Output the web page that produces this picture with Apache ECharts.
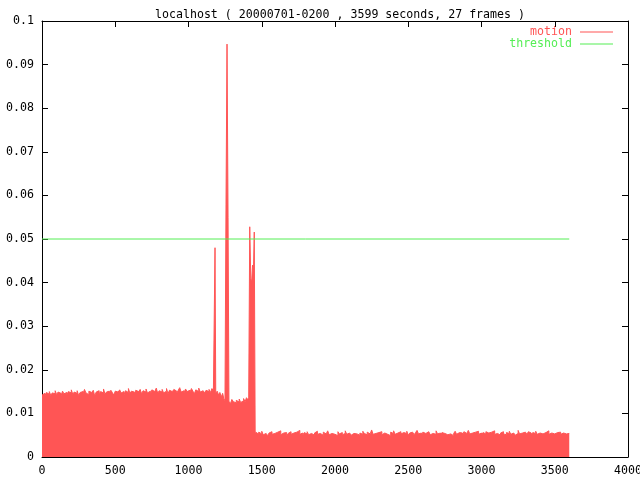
<!DOCTYPE html>
<html>
<head>
<meta charset="utf-8">
<script src="https://cdn.jsdelivr.net/npm/echarts@6/dist/echarts.min.js"></script>
<style>html,body{margin:0;padding:0;background:#fff}#c{width:640px;height:480px}</style>
</head>
<body>
<div id="c"></div>
<script>
// ---- data (seconds, motion value) ----
const titleText = 'localhost ( 20000701-0200 , 3599 seconds, 27 frames )';
const sampleStep = 10; // seconds between level samples
const earlyStart = 0;
const earlyLevel = [
0.0142,0.0146,0.0140,0.0148,0.0144,0.0150,0.0141,0.0147,0.0145,0.0152,
0.0143,0.0149,0.0146,0.0140,0.0151,0.0145,0.0148,0.0142,0.0150,0.0147,
0.0154,0.0144,0.0149,0.0146,0.0152,0.0141,0.0148,0.0150,0.0145,0.0155,
0.0147,0.0143,0.0151,0.0148,0.0146,0.0153,0.0140,0.0149,0.0152,0.0145,
0.0150,0.0147,0.0156,0.0144,0.0149,0.0151,0.0146,0.0153,0.0148,0.0142,
0.0151,0.0149,0.0145,0.0154,0.0147,0.0150,0.0143,0.0152,0.0148,0.0157,
0.0146,0.0151,0.0149,0.0144,0.0153,0.0150,0.0147,0.0155,0.0145,0.0152,
0.0149,0.0156,0.0147,0.0151,0.0143,0.0154,0.0150,0.0148,0.0158,0.0146,
0.0152,0.0149,0.0155,0.0147,0.0151,0.0157,0.0145,0.0153,0.0150,0.0148,
0.0155,0.0151,0.0146,0.0153,0.0159,0.0149,0.0152,0.0147,0.0156,0.0150,
0.0153,0.0148,0.0157,0.0151,0.0145,0.0154,0.0150,0.0158,0.0149,0.0152,
0.0156,0.0147,0.0153,0.0150,0.0155,0.0148,0.0157,0.0151];
const midTimes  = [1178, 1181, 1186, 1196, 1205, 1214, 1224, 1233, 1241, 1249, 1256, 1263, 1270, 1276, 1286, 1296, 1306, 1316, 1326, 1336, 1346, 1356, 1366, 1376, 1386, 1396, 1404, 1411, 1418, 1425, 1431, 1437, 1444, 1449, 1455];
const midValues = [0.0150, 0.0480, 0.0146, 0.0151, 0.0142, 0.0148, 0.0138, 0.0146, 0.0134, 0.0129, 0.0580, 0.0947, 0.0550, 0.0128, 0.0122, 0.0132, 0.0127, 0.0124, 0.0130, 0.0126, 0.0133, 0.0125, 0.0129, 0.0134, 0.0127, 0.0136, 0.0131, 0.0137, 0.0528, 0.0410, 0.0400, 0.0440, 0.0435, 0.0516, 0.0057];
const lateStart = 1460;
const lateLevel = [
0.0055,0.0050,0.0057,0.0053,0.0059,0.0051,0.0054,0.0056,0.0049,0.0055,
0.0058,0.0052,0.0054,0.0050,0.0057,0.0053,0.0060,0.0051,0.0055,0.0053,
0.0056,0.0049,0.0054,0.0058,0.0052,0.0055,0.0051,0.0057,0.0053,0.0061,
0.0052,0.0055,0.0050,0.0056,0.0053,0.0058,0.0051,0.0054,0.0057,0.0050,
0.0055,0.0059,0.0052,0.0054,0.0056,0.0050,0.0057,0.0053,0.0055,0.0060,
0.0051,0.0054,0.0057,0.0052,0.0055,0.0049,0.0058,0.0053,0.0056,0.0051,
0.0054,0.0060,0.0052,0.0055,0.0057,0.0050,0.0054,0.0058,0.0053,0.0056,
0.0050,0.0055,0.0052,0.0059,0.0054,0.0051,0.0057,0.0053,0.0055,0.0062,
0.0052,0.0054,0.0050,0.0056,0.0053,0.0058,0.0051,0.0055,0.0057,0.0052,
0.0055,0.0049,0.0057,0.0054,0.0060,0.0052,0.0055,0.0051,0.0058,0.0053,
0.0056,0.0052,0.0054,0.0059,0.0050,0.0055,0.0057,0.0053,0.0051,0.0056,
0.0061,0.0053,0.0055,0.0050,0.0057,0.0054,0.0052,0.0058,0.0055,0.0051,
0.0054,0.0057,0.0052,0.0060,0.0053,0.0055,0.0050,0.0056,0.0054,0.0058,
0.0051,0.0055,0.0053,0.0057,0.0049,0.0054,0.0059,0.0052,0.0056,0.0053,
0.0055,0.0050,0.0058,0.0054,0.0052,0.0061,0.0053,0.0055,0.0051,0.0057,
0.0054,0.0059,0.0052,0.0055,0.0050,0.0056,0.0053,0.0058,0.0055,0.0051,
0.0057,0.0053,0.0060,0.0052,0.0054,0.0056,0.0050,0.0055,0.0058,0.0053,
0.0051,0.0056,0.0054,0.0059,0.0052,0.0055,0.0057,0.0050,0.0054,0.0061,
0.0053,0.0055,0.0051,0.0057,0.0054,0.0052,0.0058,0.0055,0.0050,0.0056,
0.0054,0.0059,0.0052,0.0055,0.0057,0.0053,0.0050,0.0056,0.0054,0.0060,
0.0052,0.0055,0.0058,0.0053,0.0051,0.0056,0.0054,0.0057,0.0052,0.0055,
0.0059,0.0053,0.0056,0.0054];
const endTime = 3599;
const thresholdValue = 0.05;
const xTicks = [0, 4000, 500];
const yTicks = [0, 0.1, 0.01];

// ---- build series ----
const motion = [];
earlyLevel.forEach((v, i) => motion.push([earlyStart + i * sampleStep, v]));
midTimes.forEach((t, i) => motion.push([t, midValues[i]]));
lateLevel.forEach((v, i) => motion.push([lateStart + i * sampleStep, v]));
motion.push([endTime, lateLevel[lateLevel.length - 1]]);
const threshold = [[0, thresholdValue], [endTime, thresholdValue]];

const RED = '#ff5555', GREEN = '#55ee55';
const FONT = 'DejaVu Sans Mono';
const chart = echarts.init(document.getElementById('c'), null, {renderer: 'canvas'});
const axisCommon = {
  type: 'value',
  axisLine: {show: true, onZero: false, lineStyle: {color: '#000', width: 1}},
  axisTick: {show: true, inside: true, length: 6, lineStyle: {color: '#000'}},
  splitLine: {show: false},
};
chart.setOption({
  animation: false,
  backgroundColor: '#fff',
  title: {
    text: titleText, left: 335, top: 4, textAlign: 'center',
    textStyle: {fontFamily: FONT, fontSize: 11.6, fontWeight: 'normal', color: '#000'}
  },
  legend: {
    orient: 'vertical', right: 27, top: 26, align: 'right', itemGap: 0, padding: 0,
    itemWidth: 33, itemHeight: 1, icon: 'rect',
    textStyle: {fontFamily: FONT, fontSize: 11.6, lineHeight: 11, padding: [0, 3, 0, 0]},
    data: [
      {name: 'motion', textStyle: {color: RED}},
      {name: 'threshold', textStyle: {color: GREEN}}
    ]
  },
  grid: {left: 42, right: 12, top: 21, bottom: 23, containLabel: false, outerBoundsMode: 'none'},
  xAxis: [
    Object.assign({}, axisCommon, {
      position: 'bottom', min: xTicks[0], max: xTicks[1], interval: xTicks[2],
      axisLabel: {fontFamily: FONT, fontSize: 11.6, color: '#000', margin: 8,
        formatter: v => String(v)}
    }),
    Object.assign({}, axisCommon, {
      position: 'top', min: xTicks[0], max: xTicks[1], interval: xTicks[2],
      axisLabel: {show: false}
    })
  ],
  yAxis: [
    Object.assign({}, axisCommon, {
      position: 'left', min: yTicks[0], max: yTicks[1], interval: yTicks[2],
      axisLabel: {fontFamily: FONT, fontSize: 11.6, color: '#000', margin: 8,
        formatter: v => String(+v.toFixed(3))}
    }),
    Object.assign({}, axisCommon, {
      position: 'right', min: yTicks[0], max: yTicks[1], interval: yTicks[2],
      axisLabel: {show: false}
    })
  ],
  series: [
    {
      name: 'motion', type: 'line', data: motion, step: 'end', symbol: 'none',
      color: RED, lineStyle: {color: RED, width: 1},
      areaStyle: {color: RED, opacity: 1}, z: 2
    },
    {
      name: 'threshold', type: 'line', data: threshold, symbol: 'none',
      color: GREEN, lineStyle: {color: GREEN, width: 1}, z: 3
    }
  ]
});
</script>
</body>
</html>
